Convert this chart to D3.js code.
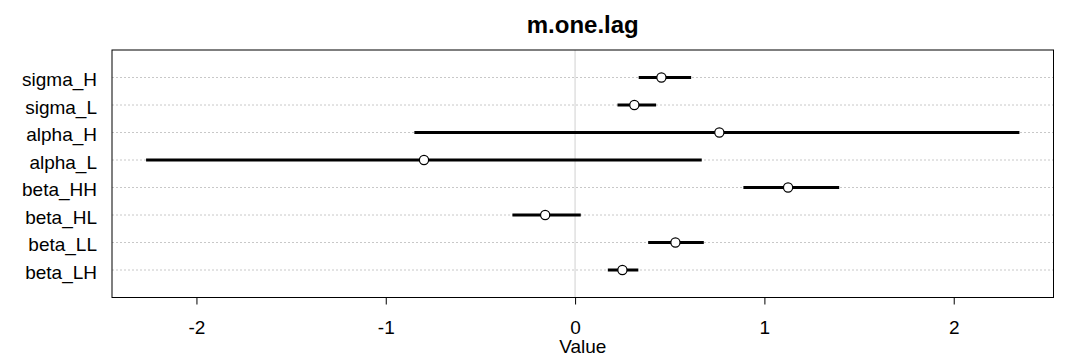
<!DOCTYPE html>
<html><head><meta charset="utf-8">
<script src="https://cdn.jsdelivr.net/npm/d3@7"></script>
<style>body{margin:0;background:#fff}svg{display:block}text{font-family:"Liberation Sans",Arial,sans-serif}</style>
</head><body><svg id="c" width="1080" height="360"></svg>
<script>
const params = ["sigma_H","sigma_L","alpha_H","alpha_L","beta_HH","beta_HL","beta_LL","beta_LH"];
const means  = [0.456, 0.313, 0.762, -0.798, 1.125, -0.158, 0.530, 0.250];
const lower  = [0.336, 0.224, -0.849, -2.266, 0.889, -0.331, 0.386, 0.173];
const upper  = [0.613, 0.428, 2.347, 0.669, 1.395, 0.030, 0.680, 0.334];
const xTicks = [-2, -1, 0, 1, 2];
const xTickLabels = ["-2", "-1", "0", "1", "2"];
const title = "m.one.lag";
const xLabel = "Value";

const svg = d3.select("#c");
const L = 112, R = 1053.5, T = 50, B = 297.5;
const x = d3.scaleLinear().domain([-2.446, 2.527]).range([L, R]);
const y = d3.scalePoint().domain(params).range([T, B]).padding(1);

// grid lines
svg.append("g").selectAll("line").data(params).join("line")
  .attr("x1", L).attr("x2", R).attr("y1", d => y(d)).attr("y2", d => y(d))
  .attr("stroke", "#c8c8c8").attr("stroke-width", 1).attr("stroke-dasharray", "2,2");
// zero line
svg.append("line").attr("x1", x(0)).attr("x2", x(0)).attr("y1", T).attr("y2", B)
  .attr("stroke", "#e0e0e0").attr("stroke-width", 1.5);

// intervals
svg.append("g").selectAll("line").data(params).join("line")
  .attr("x1", (d,i) => x(lower[i])).attr("x2", (d,i) => x(upper[i]))
  .attr("y1", d => y(d)).attr("y2", d => y(d))
  .attr("stroke", "#000").attr("stroke-width", 3);
// points
svg.append("g").selectAll("circle").data(params).join("circle")
  .attr("cx", (d,i) => x(means[i])).attr("cy", d => y(d)).attr("r", 4.6)
  .attr("fill", "#fff").attr("stroke", "#000").attr("stroke-width", 1.2);

// box
svg.append("rect").attr("x", L).attr("y", T).attr("width", R - L).attr("height", B - T)
  .attr("fill", "none").attr("stroke", "#000").attr("stroke-width", 1);

// x axis
const ax = svg.append("g").attr("transform", `translate(0,${B})`)
  .call(d3.axisBottom(x).tickValues(xTicks).tickFormat((d,i) => xTickLabels[i]).tickSize(7).tickPadding(11));
ax.select(".domain").remove();
ax.selectAll("text").attr("font-size", 19).attr("fill", "#000").attr("dy", null).attr("y", 36.5)
  .style("font-family", '"Liberation Sans",Arial,sans-serif');
ax.selectAll("line").attr("stroke", "#000");

// y labels
svg.append("g").selectAll("text").data(params).join("text")
  .attr("x", 97).attr("y", d => y(d)).attr("dy", "0.45em").attr("text-anchor", "end")
  .attr("font-size", 19).attr("fill", "#000").text(d => d);

svg.append("text").attr("x", (L + R) / 2).attr("y", 33).attr("text-anchor", "middle")
  .attr("font-size", 24).attr("font-weight", "bold").text(title);
svg.append("text").attr("x", (L + R) / 2).attr("y", 353).attr("text-anchor", "middle")
  .attr("font-size", 19).text(xLabel);
</script></body></html>
